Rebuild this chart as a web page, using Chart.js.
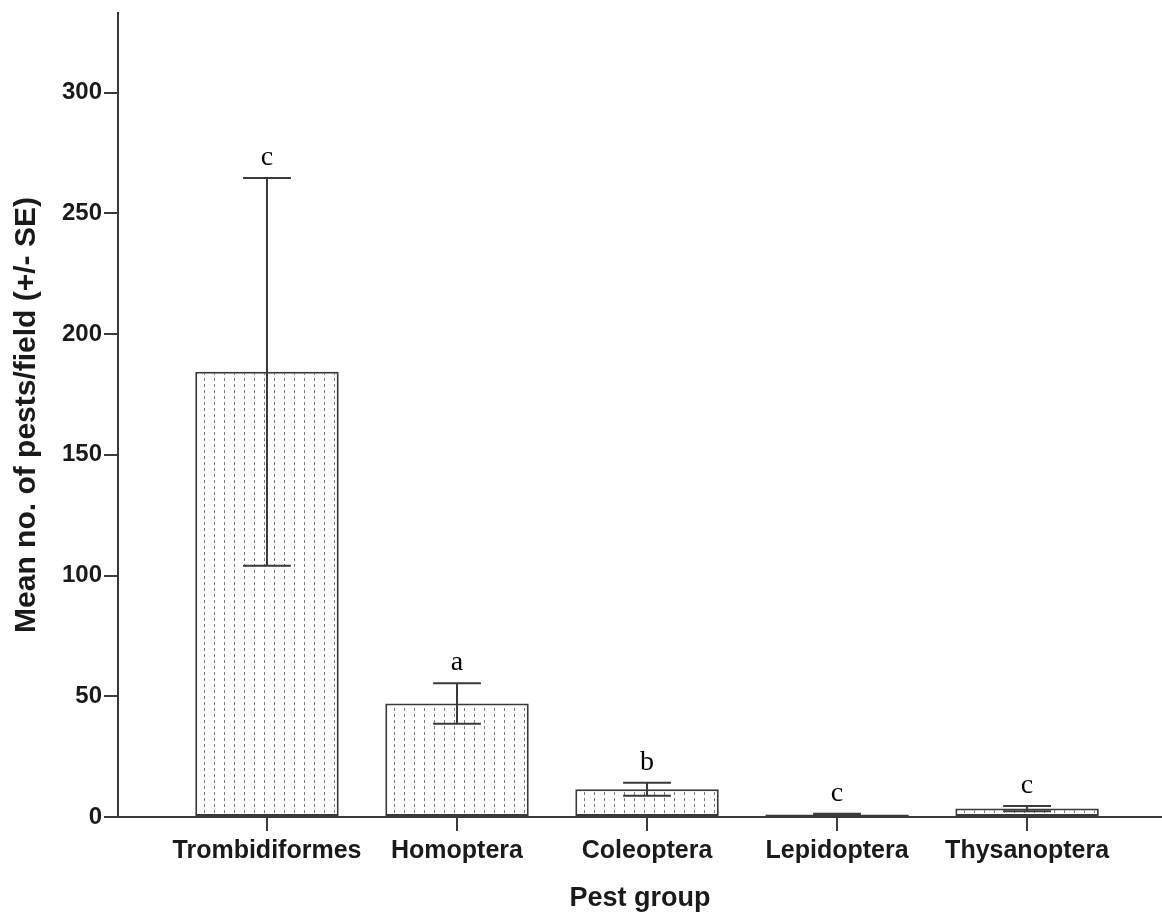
<!DOCTYPE html>
<html>
<head>
<meta charset="utf-8">
<title>Mean no. of pests per field by pest group</title>
<script src="https://cdn.jsdelivr.net/npm/chart.js@4/dist/chart.umd.min.js"></script>
<style>
  html, body { margin: 0; padding: 0; background: #ffffff; }
  #wrap { width: 1162px; height: 912px; }
</style>
</head>
<body>
<div id="wrap"><canvas id="chart" width="1162" height="912"></canvas></div>
<script>
// Pest groups and their mean counts per field with standard errors
const categories = ['Trombidiformes', 'Homoptera', 'Coleoptera', 'Lepidoptera', 'Thysanoptera'];
const means = [184.4, 47.0, 11.5, 1.0, 3.5];
const stdErr = [80.3, 8.4, 2.7, 0.3, 1.1];
// significance letters shown above each error bar
const groupLetters = ['c', 'a', 'b', 'c', 'c'];
const yTicks = [0, 50, 100, 150, 200, 250, 300];

const INK = '#1a1a1a';
const LINE = '#3a3a3a';

// dotted vertical hatching used as the bar fill
function makeDotFill() {
  const tile = document.createElement('canvas');
  tile.width = 10;
  tile.height = 6;
  const t = tile.getContext('2d');
  t.fillStyle = '#ffffff';
  t.fillRect(0, 0, 10, 6);
  t.fillStyle = '#7a7a7a';
  t.fillRect(4, 0, 1, 3);
  return t.createPattern(tile, 'repeat');
}

const ctx = document.getElementById('chart').getContext('2d');

// error bars and group letters drawn from the same scales as the bars
const errorBars = {
  id: 'errorBars',
  afterDatasetsDraw(chart) {
    const meta = chart.getDatasetMeta(0);
    const y = chart.scales.y;
    const c = chart.ctx;
    c.save();
    meta.data.forEach((bar, i) => {
      const hi = y.getPixelForValue(means[i] + stdErr[i]);
      const lo = y.getPixelForValue(Math.max(means[i] - stdErr[i], 0));
      const capHalf = bar.width / 6;
      c.strokeStyle = LINE;
      c.lineWidth = 2;
      c.beginPath();
      c.moveTo(bar.x, hi); c.lineTo(bar.x, lo);
      c.moveTo(bar.x - capHalf, hi); c.lineTo(bar.x + capHalf, hi);
      c.moveTo(bar.x - capHalf, lo); c.lineTo(bar.x + capHalf, lo);
      c.stroke();
      c.fillStyle = '#000000';
      c.font = '28px "Liberation Serif", "Times New Roman", serif';
      c.textAlign = 'center';
      c.textBaseline = 'alphabetic';
      c.fillText(groupLetters[i], bar.x, hi - 13);
    });
    c.restore();
  }
};

new Chart(ctx, {
  type: 'bar',
  data: {
    datasets: [{
      label: 'Mean no. of pests/field',
      data: means.map((m, i) => ({ x: i, y: m })),
      backgroundColor: makeDotFill(),
      borderColor: LINE,
      borderWidth: 2,
      borderSkipped: false,
      barPercentage: 0.755,
      categoryPercentage: 1.0
    }]
  },
  options: {
    responsive: false,
    devicePixelRatio: 1,
    animation: false,
    events: [],
    layout: { padding: { top: 13, right: 0, bottom: 0, left: 0 } },
    plugins: {
      legend: { display: false },
      tooltip: { enabled: false },
      title: { display: false }
    },
    scales: {
      x: {
        type: 'linear',
        min: -0.784,
        max: 4.71,
        offset: false,
        afterBuildTicks(scale) {
          scale.ticks = categories.map((_, i) => ({ value: i }));
        },
        afterFit(scale) {
          scale.height = 95;
        },
        border: { display: true, color: LINE, width: 2 },
        grid: {
          display: true,
          offset: false,
          drawOnChartArea: false,
          drawTicks: true,
          tickLength: 14,
          color: LINE,
          lineWidth: 2
        },
        ticks: {
          autoSkip: false,
          maxRotation: 0,
          padding: 5,
          color: INK,
          font: { family: '"Liberation Sans", Arial, sans-serif', size: 25, weight: 'bold' },
          callback: (v) => categories[v]
        },
        title: {
          display: true,
          text: 'Pest group',
          color: INK,
          font: { family: '"Liberation Sans", Arial, sans-serif', size: 27, weight: 'bold' },
          padding: { top: 0, bottom: -3 }
        }
      },
      y: {
        type: 'linear',
        min: 0,
        max: 333,
        afterBuildTicks(scale) {
          scale.ticks = yTicks.map(v => ({ value: v }));
        },
        afterFit(scale) {
          scale.width = 118;
          scale.paddingTop = 0;
        },
        border: { display: true, color: LINE, width: 2 },
        grid: {
          display: true,
          drawOnChartArea: false,
          drawTicks: true,
          tickLength: 14,
          color: LINE,
          lineWidth: 2
        },
        ticks: {
          padding: 2,
          color: INK,
          font: { family: '"Liberation Sans", Arial, sans-serif', size: 24, weight: 'bold' }
        },
        title: {
          display: true,
          text: 'Mean no. of pests/field (+/- SE)',
          color: INK,
          font: { family: '"Liberation Sans", Arial, sans-serif', size: 30, weight: 'bold' },
          padding: { top: 9, bottom: 0 }
        }
      }
    }
  },
  plugins: [errorBars]
});
</script>
</body>
</html>
